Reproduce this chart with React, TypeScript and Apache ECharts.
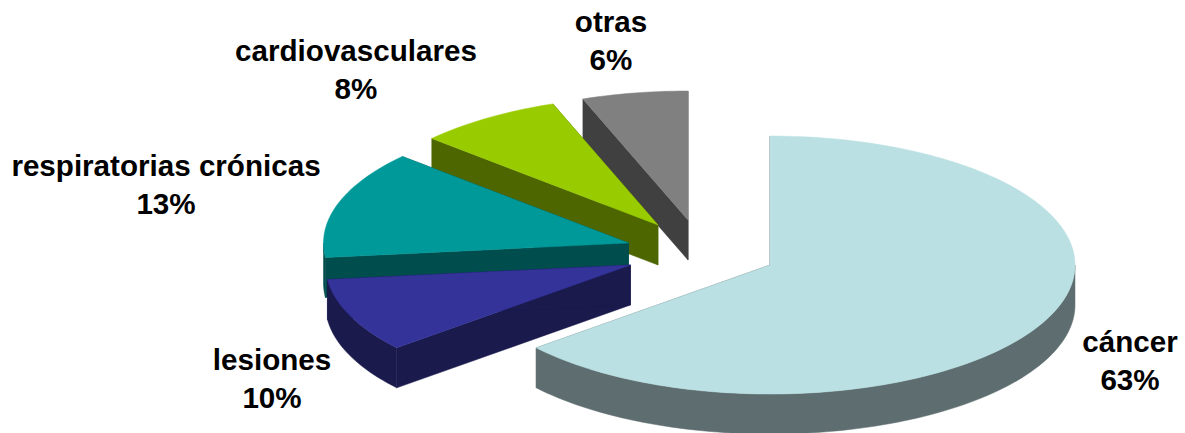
import React, { useEffect, useRef } from "react";
import * as echarts from "echarts";

// Data
const categories = ["cáncer", "lesiones", "respiratorias crónicas", "cardiovasculares", "otras"];
const sliceValues = [63.9, 9.3, 13.5, 7.7, 5.6];
const percentLabels = ["63%", "10%", "13%", "8%", "6%"];

// Styling and layout
const topColors = ["#BAE0E3", "#333399", "#009999", "#99CC00", "#808080"];
const sideColors = ["#5E6E70", "#1A1A4D", "#004D4D", "#4D6600", "#404040"];
const apexX = [770, 630.5, 628.5, 658, 688];
const apexY = [265, 265, 243, 225, 220];
const labelX = [1130, 272, 166, 356, 611];
const labelY = [360, 378, 184, 69, 40];
const RX = 305;
const RY = 129;
const DEPTH = 40;
const drawOrder = [4, 3, 2, 1, 0];

function pointOn(cx: number, cy: number, deg: number): number[] {
  const r = (deg * Math.PI) / 180;
  return [cx + RX * Math.sin(r), cy - RY * Math.cos(r)];
}

function arc(cx: number, cy: number, a0: number, a1: number): number[][] {
  const n = Math.max(2, Math.ceil(Math.abs(a1 - a0) / 1.5));
  const pts: number[][] = [];
  for (let i = 0; i <= n; i++) pts.push(pointOn(cx, cy, a0 + ((a1 - a0) * i) / n));
  return pts;
}

const total = sliceValues.reduce((a, b) => a + b, 0);
const startAngles: number[] = [];
sliceValues.reduce((acc, v, i) => {
  startAngles[i] = (acc / total) * 360;
  return acc + v;
}, 0);

function renderSlice(_params: any, api: any) {
  const i = api.value(0) as number;
  const a0 = startAngles[i];
  const a1 = a0 + (sliceValues[i] / total) * 360;
  const cx = apexX[i];
  const cy = apexY[i];
  const shift = (p: number[]) => [p[0], p[1] + DEPTH];
  const children: any[] = [];
  const side = sideColors[i];
  const face = (pts: number[][], fill: string) =>
    children.push({ type: "polygon", shape: { points: pts }, style: { fill, stroke: fill, lineWidth: 0.5 } });

  // cut faces
  [a0, a1].forEach((a) => {
    const p = pointOn(cx, cy, a);
    face([[cx, cy], p, shift(p), [cx, cy + DEPTH]], side);
  });
  // front rim (angles 90..270 face the viewer)
  const r0 = Math.max(a0, 90);
  const r1 = Math.min(a1, 270);
  if (r1 > r0) {
    const top = arc(cx, cy, r0, r1);
    face([...top, ...top.slice().reverse().map(shift)], side);
  }
  // top face
  face([[cx, cy], ...arc(cx, cy, a0, a1)], topColors[i]);
  return { type: "group", children };
}

export default function App() {
  const ref = useRef<HTMLDivElement>(null);
  useEffect(() => {
    const chart = echarts.init(ref.current!, undefined, { renderer: "svg" });
    chart.setOption({
      animation: false,
      backgroundColor: "#ffffff",
      series: [
        {
          type: "custom",
          coordinateSystem: "none",
          silent: true,
          data: drawOrder.map((i) => [i, sliceValues[i]]),
          renderItem: renderSlice,
        },
      ],
      graphic: categories.map((name, i) => ({
        type: "text",
        x: labelX[i],
        y: labelY[i],
        z: 10,
        style: {
          text: `${name}\n${percentLabels[i]}`,
          align: "center",
          verticalAlign: "middle",
          fill: "#000000",
          font: 'bold 29.6px "Liberation Sans", Arial, sans-serif',
          lineHeight: 38,
        },
      })),
    });
    return () => chart.dispose();
  }, []);
  return <div ref={ref} style={{ position: "fixed", left: 0, top: 0, width: 1185, height: 433 }} />;
}
